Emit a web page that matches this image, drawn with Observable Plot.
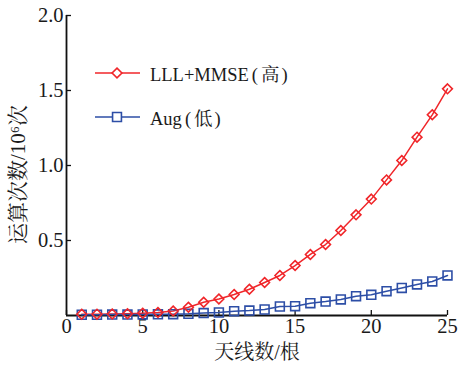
<!DOCTYPE html>
<html><head><meta charset="utf-8">
<script src="https://cdn.jsdelivr.net/npm/d3@7"></script>
<script src="https://cdn.jsdelivr.net/npm/@observablehq/plot@0.6"></script>
<style>
body{margin:0;background:#fff;}
#wrap{position:relative;width:458px;height:367px;font-family:"Liberation Serif","Noto Serif CJK SC","Noto Sans CJK SC",serif;}
.row{position:absolute;left:95px;height:24px;display:flex;align-items:center;font-size:18.5px;color:#1a1a1a;}
.row svg{margin-right:10px;}
.par{margin-left:3px;}
.cjk{padding:0 2px 0 3px;}
</style></head><body><div id="wrap"></div>
<script>
const antennas = [1,2,3,4,5,6,7,8,9,10,11,12,13,14,15,16,17,18,19,20,21,22,23,24,25];
const lllMmse = [0.008,0.009,0.010,0.012,0.015,0.020,0.030,0.055,0.088,0.110,0.140,0.175,0.220,0.267,0.333,0.407,0.473,0.567,0.671,0.776,0.904,1.033,1.189,1.338,1.511];
const aug = [0.005,0.005,0.006,0.006,0.007,0.008,0.009,0.011,0.016,0.020,0.029,0.033,0.040,0.060,0.062,0.082,0.093,0.107,0.129,0.138,0.162,0.184,0.207,0.227,0.267];
const seriesNames = ["LLL+MMSE(高)", "Aug(低)"];
const seriesColors = ["#f0262a", "#2d4ea6"];
const seriesSymbols = ["diamond2", "square"];
const xTicks = [0,5,10,15,20,25];
const yTicks = [0.5,1.0,1.5,2.0];
const xLabel = "天线数/根";
const yLabel = "运算次数/10⁶次";

const data = [
  ...antennas.map((a,i)=>({x:a, y:lllMmse[i], s:seriesNames[0]})),
  ...antennas.map((a,i)=>({x:a, y:aug[i], s:seriesNames[1]}))
];
const font = `"Liberation Serif","Noto Serif CJK SC","Noto Sans CJK SC",serif`;

const chart = Plot.plot({
  width: 458, height: 367,
  marginLeft: 66, marginRight: 11, marginTop: 15, marginBottom: 52,
  style: {fontFamily: font, fontSize: "20px", color: "#1a1a1a", background: "#fff"},
  x: {domain: [0,25]},
  y: {domain: [0,2]},
  color: {domain: seriesNames, range: seriesColors},
  symbol: {domain: seriesNames, range: seriesSymbols},
  marks: [
    Plot.axisX({ticks: xTicks, tickSize: -5, tickPadding: 8, label: null, stroke: "#111", strokeWidth: 1.3, fontSize: 20.5, fill: "#1a1a1a"}),
    Plot.axisY({ticks: yTicks, tickSize: -5, tickPadding: 8, label: null, tickFormat: d3.format(".1f"), stroke: "#111", strokeWidth: 1.3, fontSize: 20.5, fill: "#1a1a1a"}),
    Plot.ruleX([0], {stroke: "#111", strokeWidth: 1.8}),
    Plot.ruleY([0], {stroke: "#111", strokeWidth: 1.8}),
    Plot.line(data, {x: "x", y: "y", z: "s", stroke: "s", strokeWidth: 1.5}),
    Plot.dot(data.filter(d=>d.s===seriesNames[1]), {x: "x", y: "y", symbol: "s", stroke: "s", r: 5, strokeWidth: 1.6, fill: "none"}),
    Plot.dot(data.filter(d=>d.s===seriesNames[0]), {x: "x", y: "y", symbol: "s", stroke: "s", r: 4.4, strokeWidth: 1.6, fill: "none"}),
    Plot.text([xLabel], {frameAnchor: "bottom", textAnchor: "middle", lineAnchor: "middle", dy: 37, fontSize: 20, fill: "#1a1a1a"}),
    Plot.text([yLabel], {frameAnchor: "left", textAnchor: "middle", lineAnchor: "middle", rotate: -90, dx: -48, dy: 9, fontSize: 21, fill: "#1a1a1a"})
  ]
});
const wrap = document.getElementById("wrap");
wrap.appendChild(chart);

// legend inside plot area
const legendTops = [61, 105];
seriesNames.forEach((name, i) => {
  const row = document.createElement("div");
  row.className = "row";
  row.style.top = legendTops[i] + "px";
  const svg = d3.create("svg").attr("width", 45).attr("height", 24);
  svg.append("line").attr("x1", 0).attr("x2", 45).attr("y1", 12).attr("y2", 12)
    .attr("stroke", seriesColors[i]).attr("stroke-width", 1.5);
  const sym = i === 0 ? d3.symbolDiamond2 : d3.symbolSquare;
  const r = i === 0 ? 4.4 : 5;
  svg.append("path").attr("transform", "translate(22,12)")
    .attr("d", d3.symbol(sym, Math.PI * r * r)())
    .attr("fill", "white").attr("stroke", seriesColors[i]).attr("stroke-width", 1.6);
  row.appendChild(svg.node());
  const span = document.createElement("span");
  const m = name.match(/^(.*)\((.*)\)$/);
  span.append(m[1]);
  const p = document.createElement("span");
  p.className = "par";
  p.append("(");
  const c = document.createElement("span");
  c.className = "cjk";
  c.textContent = m[2];
  p.appendChild(c);
  p.append(")");
  span.appendChild(p);
  row.appendChild(span);
  wrap.appendChild(row);
});
</script></body></html>
